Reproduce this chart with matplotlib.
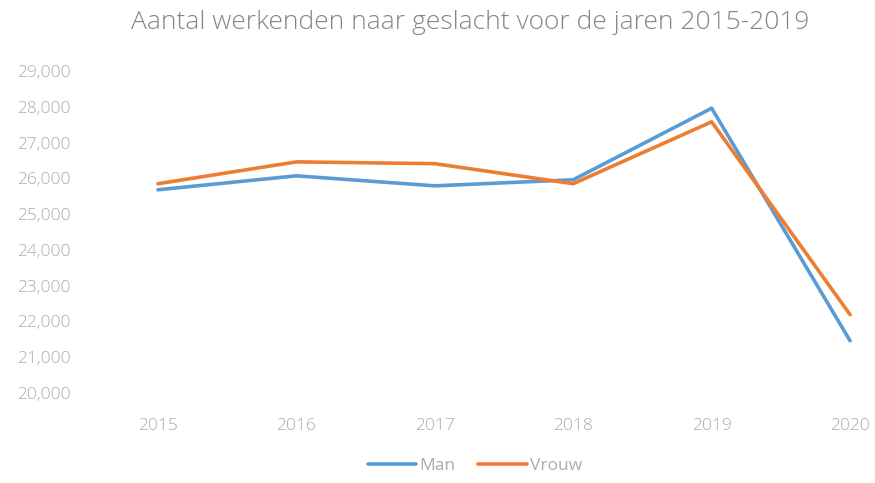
"""
Aantal werkenden naar geslacht, lijngrafiek.
"""

import matplotlib.pyplot as plt
from matplotlib.ticker import FuncFormatter

# gegevens
jaren = [2015, 2016, 2017, 2018, 2019, 2020]
man = [25680, 26070, 25790, 25960, 27960, 21460]
vrouw = [25850, 26460, 26410, 25850, 27580, 22190]

plt.rcParams['font.family'] = ['Open Sans', 'DejaVu Sans']

fig = plt.figure(figsize=(8.75, 4.83), dpi=100)
ax = fig.add_axes([90 / 875, 90 / 483, 785 / 875, 322 / 483])

ax.plot(jaren, man, color='#5B9BD5', lw=2.6, label='Man', solid_capstyle='round')
ax.plot(jaren, vrouw, color='#ED7D31', lw=2.6, label='Vrouw', solid_capstyle='round')

ax.set_xlim(2014.509, 2020.18)
ax.set_ylim(20000, 29000)
ax.set_xticks(jaren)
ax.set_yticks(range(20000, 29001, 1000))
ax.yaxis.set_major_formatter(FuncFormatter(lambda v, p: f'{int(v):,}'))

for s in ax.spines.values():
    s.set_visible(False)
ax.tick_params(length=0, colors='#ababab', labelsize=12.5)
ax.tick_params(axis='y', pad=14)
ax.tick_params(axis='x', pad=18)
for lbl in ax.get_xticklabels() + ax.get_yticklabels():
    lbl.set_fontweight('light')

fig.text(0.537, 0.953, 'Aantal werkenden naar geslacht voor de jaren 2015-2019',
         ha='center', va='center', fontsize=19, color='#858585', fontweight='light')

leg = fig.legend(loc='center', bbox_to_anchor=(0.543, 0.035), ncol=2, frameon=False,
                 fontsize=12.5, handlelength=2.8, columnspacing=1.3, handletextpad=0.2)
for t in leg.get_texts():
    t.set_color('#ababab')

fig.savefig('out.png', dpi=100)
